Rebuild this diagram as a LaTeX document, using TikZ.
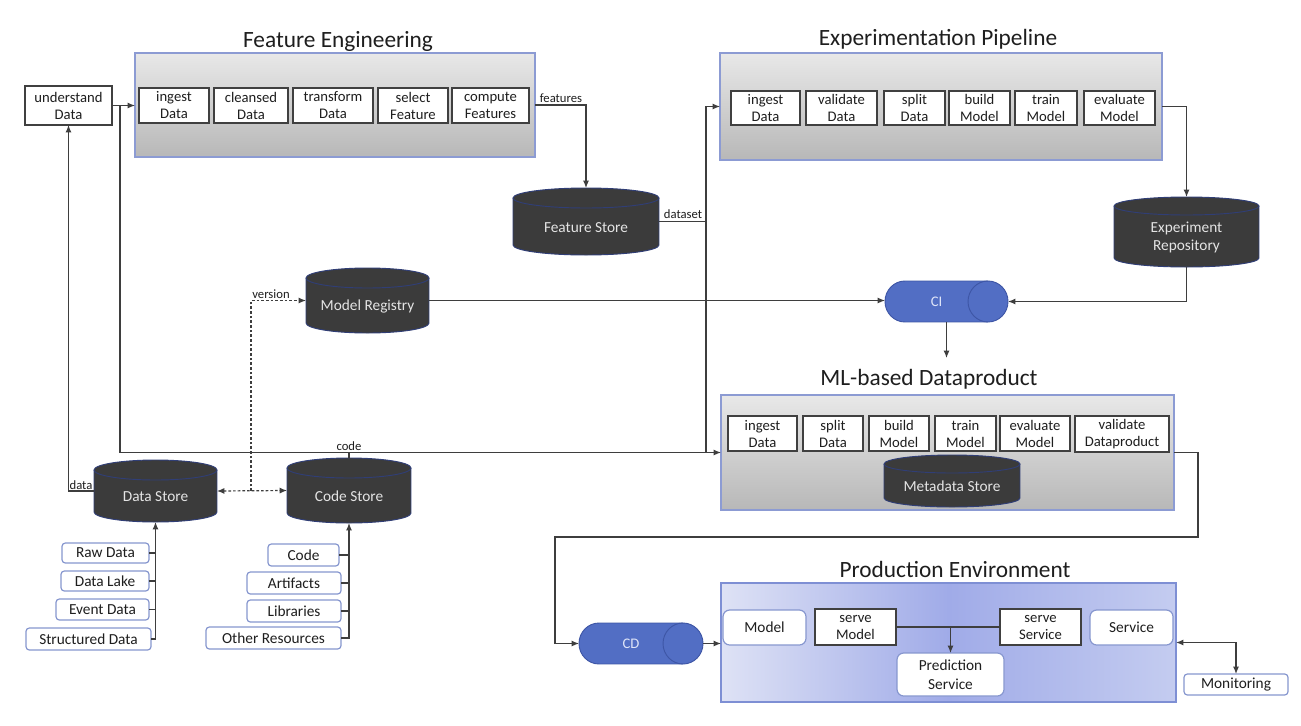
\documentclass[tikz,border=0pt]{standalone}
\usepackage{fontspec}
\setmainfont{Carlito}
\usetikzlibrary{arrows.meta}
\definecolor{linec}{RGB}{62,62,62}
\definecolor{cylf}{RGB}{59,59,59}
\definecolor{cylb}{RGB}{48,62,118}
\definecolor{cyltx}{RGB}{228,228,228}
\definecolor{groupb}{RGB}{140,155,211}
\definecolor{stepb}{RGB}{64,64,64}
\definecolor{srcb}{RGB}{135,151,207}
\definecolor{hcf}{RGB}{82,110,196}
\definecolor{hcb}{RGB}{62,86,166}
\definecolor{hctx}{RGB}{222,228,248}
\definecolor{prodl}{RGB}{222,226,245}
\definecolor{prodm}{RGB}{160,171,232}
\definecolor{prodr}{RGB}{196,204,240}
\definecolor{prodb}{RGB}{126,143,212}
\definecolor{txt}{RGB}{30,30,30}

\newcommand{\mybox}[7]{\node[#1, minimum width={(#5-#3)*0.75pt}, minimum height={(#6-#4)*0.75pt}] (#2) at ({(#3+#5)/2},{(#4+#6)/2}) {#7};}

\newcommand{\mycyl}[7]{%
  \fill[cylf] (#2,{#3+#6}) rectangle (#4,{#5-#6});
  \fill[cylf] ({(#2+#4)/2},{#5-#6}) ellipse [x radius={(#4-#2)/2}, y radius={#6}];
  \fill[cylf] ({(#2+#4)/2},{#3+#6}) ellipse [x radius={(#4-#2)/2}, y radius={#6}];
  \draw[cylb, line width=0.7pt] (#2,{#3+#6}) -- (#2,{#5-#6}) arc [start angle=180, end angle=360, x radius={(#4-#2)/2*0.75pt}, y radius={#6*0.75pt}] -- (#4,{#3+#6});
  \draw[cylb, line width=0.7pt] ({(#2+#4)/2},{#3+#6}) ellipse [x radius={(#4-#2)/2}, y radius={#6}];
  \node[cylnode, minimum width={(#4-#2)*0.75pt}, minimum height={(#5-#3)*0.75pt}] (#1) at ({(#2+#4)/2},{(#3+#5)/2}) {};
  \node[cyltext] (#1-t) at ({(#2+#4)/2},{(#3+#5)/2+#6/2+1}) {#7};
}

\newcommand{\myhcyl}[7]{%
  \fill[hcf] ({#2+#6},#3) rectangle ({#4-#6},#5);
  \fill[hcf] ({#2+#6},{(#3+#5)/2}) ellipse [x radius={#6}, y radius={(#5-#3)/2}];
  \fill[hcf] ({#4-#6},{(#3+#5)/2}) ellipse [x radius={#6}, y radius={(#5-#3)/2}];
  \draw[hcb, line width=0.7pt] ({#4-#6},#3) -- ({#2+#6},#3) arc [start angle=90, end angle=270, x radius={#6*0.75pt}, y radius={(#5-#3)/2*0.75pt}] -- ({#4-#6},#5);
  \draw[hcb, line width=0.7pt] ({#4-#6},{(#3+#5)/2}) ellipse [x radius={#6}, y radius={(#5-#3)/2}];
  \node[cylnode, minimum width={(#4-#2)*0.75pt}, minimum height={(#5-#3)*0.75pt}] (#1) at ({(#2+#4)/2},{(#3+#5)/2}) {};
  \node[hctext] (#1-t) at ({(#2+#4)/2-#6/2},{(#3+#5)/2}) {#7};
}

\tikzset{
  conn/.style={draw=linec, line width=0.9pt},
  arr/.style={conn, -{Latex[length=5.5pt,width=4.5pt]}},
  arrboth/.style={conn, {Latex[length=5.5pt,width=4.5pt]}-{Latex[length=5.5pt,width=4.5pt]}},
  dotarr/.style={conn, dash pattern=on 2pt off 1.5pt, -{Latex[length=5.5pt,width=4.5pt]}},
  dotboth/.style={conn, dash pattern=on 2pt off 1.5pt, {Latex[length=5.5pt,width=4.5pt]}-{Latex[length=5.5pt,width=4.5pt]}},
  group/.style={draw=groupb, line width=0.9pt, top color=gray!18, bottom color=gray!56, inner sep=0pt, outer sep=0pt},
  prodgroup/.style={draw=prodb, line width=0.9pt, left color=prodl, right color=prodr, middle color=prodm, inner sep=0pt, outer sep=0pt},
  stepbox/.style={draw=stepb, line width=1.1pt, fill=white, align=center, text=txt, font=\fontsize{11}{12.75}\selectfont, inner sep=0pt, outer sep=0pt},
  srcbox/.style={draw=srcb, line width=0.9pt, rounded corners=2.5pt, fill=white, text=txt, font=\fontsize{11.5}{13}\selectfont, inner sep=0pt, outer sep=0pt},
  prodbox/.style={draw=srcb, line width=0.9pt, rounded corners=5pt, fill=white, align=center, text=txt, font=\fontsize{11.5}{14.5}\selectfont, inner sep=0pt, outer sep=0pt},
  plainbox/.style={draw=stepb, line width=0.9pt, fill=white, align=center, text=txt, font=\fontsize{11}{12.75}\selectfont, inner sep=0pt, outer sep=0pt},
  title/.style={text=txt, font=\fontsize{17.5}{20}\selectfont, inner sep=0pt},
  lbl/.style={text=txt, font=\fontsize{9.5}{11}\selectfont, inner sep=0pt},
  cylnode/.style={inner sep=0pt, outer sep=0pt},
  cyltext/.style={text=cyltx, align=center, font=\fontsize{11.5}{13.5}\selectfont, inner sep=0pt},
  hctext/.style={text=hctx, font=\fontsize{11}{13}\selectfont, inner sep=0pt},
}

\begin{document}
\begin{tikzpicture}[x=0.75pt, y=-0.75pt]
\fill[white] (0,0) rectangle (1301,725);
\useasboundingbox (0,0) rectangle (1301,725);

% ---------- titles ----------
\node[title] (tfe) at (338,41) {Feature Engineering};
\node[title] (tep) at (938,39) {Experimentation Pipeline};
\node[title] (tml) at (929,379) {ML-based Dataproduct};
\node[title] (tpe) at (955,569) {Production Environment};

% ---------- feature engineering ----------
\mybox{plainbox}{ud}{25}{86}{112}{125}{understand\\Data}
\mybox{group}{fe}{135}{53}{535}{157}{}
\mybox{stepbox}{fi}{139}{88}{209}{123}{ingest\\Data}
\mybox{stepbox}{fc}{214}{88}{288}{123}{cleansed\\Data}
\mybox{stepbox}{ft}{293}{88}{373}{123}{transform\\Data}
\mybox{stepbox}{fsel}{378}{88}{448}{123}{select\\Feature}
\mybox{stepbox}{fcomp}{452}{88}{529}{123}{compute\\Features}

\mycyl{fs}{513}{188}{659}{255}{10}{Feature Store}

% ---------- experimentation pipeline ----------
\mybox{group}{ep}{720}{53}{1162}{160}{}
\mybox{stepbox}{ei}{731}{91}{800}{125}{ingest\\Data}
\mybox{stepbox}{ev}{806}{91}{877}{125}{validate\\Data}
\mybox{stepbox}{esp}{884}{91}{945}{125}{split\\Data}
\mybox{stepbox}{eb}{949}{91}{1010}{125}{build\\Model}
\mybox{stepbox}{et}{1015}{91}{1077}{125}{train\\Model}
\mybox{stepbox}{eev}{1084}{91}{1155}{125}{evaluate\\Model}

\mycyl{er}{1114}{197}{1259}{267}{9}{Experiment\\Repository}
\mycyl{mr}{306}{268}{429}{333}{10}{Model Registry}
\myhcyl{ci}{885}{281}{1008}{322}{20}{CI}

% ---------- ML-based dataproduct ----------
\mybox{group}{ml}{721}{395}{1174}{510}{}
\mybox{stepbox}{mi}{728}{416}{797}{451}{ingest\\Data}
\mybox{stepbox}{msp}{803}{416}{863}{451}{split\\Data}
\mybox{stepbox}{mb}{869}{416}{929}{451}{build\\Model}
\mybox{stepbox}{mt}{935}{416}{996}{451}{train\\Model}
\mybox{stepbox}{mev}{1000}{416}{1070}{451}{evaluate\\Model}
\mybox{stepbox}{mval}{1075}{416}{1169}{452}{validate\\Dataproduct}
\mycyl{md}{884}{455}{1020}{507}{9}{Metadata Store}

% ---------- production ----------
\myhcyl{cd}{579}{623}{703}{664}{20}{CD}
\mybox{prodgroup}{pe}{721}{583}{1176}{702}{}
\mybox{prodbox}{pm}{723}{610}{806}{645}{Model}
\mybox{stepbox}{psm}{815}{609}{896}{645}{serve\\Model}
\mybox{stepbox}{pss}{1000}{609}{1081}{645}{serve\\Service}
\mybox{prodbox}{psv}{1090}{610}{1173}{645}{Service}
\mybox{prodbox}{pps}{897}{653}{1004}{696}{Prediction\\Service}
\mybox{srcbox}{mon}{1184}{674}{1288}{695}{Monitoring}

% ---------- stores ----------
\mycyl{ds}{94}{460}{217}{522}{10}{Data Store}
\mycyl{cs}{287}{458}{411}{523}{10}{Code Store}

\mybox{srcbox}{raw}{62}{543}{149}{563}{Raw Data}
\mybox{srcbox}{lake}{61}{571}{149}{591}{Data Lake}
\mybox{srcbox}{event}{56}{599}{149}{620}{Event Data}
\mybox{srcbox}{struct}{26}{628}{151}{650}{Structured Data}

\mybox{srcbox}{code}{268}{544}{339}{566}{Code}
\mybox{srcbox}{art}{247}{572}{341}{594}{Artifacts}
\mybox{srcbox}{lib}{247}{600}{341}{622}{Libraries}
\mybox{srcbox}{other}{206}{627}{341}{649}{Other Resources}

% ---------- connectors ----------
\coordinate (jfe) at (120,106);
\draw[arr] (ud.east) -- (ud.east -| fe.west);
\draw[arr] (ud.east -| jfe) |- (ml.west);
\coordinate (codebus) at (cs.north |- ml.west);
\draw[conn] (cs.north) -- (codebus);
\node[lbl, anchor=south] (lcode) at ([yshift=1]codebus) {code};

\draw[arr] (fe.east) -| (fs.north);
\node[lbl, anchor=south] (lfeat) at (561,103) {features};

\coordinate (dsj) at (706,221.5);
\draw[arr] (fs.east) -- (dsj) |- (ep.west);
\draw[conn] (dsj) -- (dsj |- ml.west);
\node[lbl, anchor=south] (ldset) at (683,219) {dataset};

\draw[arr] (ep.east) -| (er.north);
\draw[arr] (er.south) |- (ci.east);
\draw[arr] (mr.east) -- (mr.east -| ci.west);
\coordinate (ciend) at (946.5,358);
\draw[arr] (ci.south) -- (ciend);

\coordinate (mlout) at (1198,537);
\coordinate (cdin) at (555,537);
\draw[arr] (ml.east) -| (mlout) -- (cdin) |- (cd.west);
\draw[arr] (cd.east) -- (cd.east -| pe.west);
\draw[conn] (psm.east) -- (pss.west);
\draw[arr] (psm.east -| pps.north) -- (pps.north);
\draw[arrboth] (pe.east) -| (mon.north);

\draw[arr] (ds.west) -| (ud.south);
\node[lbl, anchor=south] (ldata) at (81,490) {data};
\draw[dotboth] (ds.east) -- (cs.west);
\coordinate (vj) at (251,491);
\draw[dotarr] (vj) |- (mr.west);
\node[lbl, anchor=south] (lver) at (271,299) {version};

\draw[arr] (struct.east) -| (ds.south);
\foreach \n in {raw,lake,event} \draw[conn] (\n.east) -- (\n.east -| ds.south);
\draw[arr] (other.east) -| (cs.south);
\foreach \n in {code,art,lib} \draw[conn] (\n.east) -- (\n.east -| cs.south);
\end{tikzpicture}
\end{document}
